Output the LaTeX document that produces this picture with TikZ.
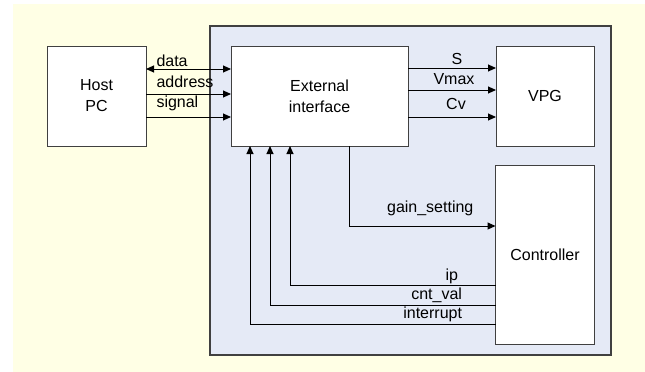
\documentclass[tikz,border=0pt]{standalone}
\usepackage{fontspec}
\setmainfont{Liberation Sans}
\usetikzlibrary{positioning, arrows.meta}
\definecolor{bgyellow}{RGB}{255,255,229}
\definecolor{panelblue}{RGB}{229,234,246}
\definecolor{edgegray}{RGB}{64,64,64}

\begin{document}
\begin{tikzpicture}[x=1pt, y=-1pt,
    >={Triangle[length=8pt, width=7pt]},
    block/.style={draw=edgegray, fill=white, line width=1pt, outer sep=0pt, inner sep=0pt, align=center, font=\fontsize{16}{21}\selectfont},
    lbl/.style={inner sep=0pt, font=\fontsize{16}{21}\selectfont},
    sig/.style={line width=1pt}
    ]
    \useasboundingbox (0,0) rectangle (645,372);
    \fill[bgyellow] (13,4) rectangle (645,372);
    \draw[fill=panelblue, draw=edgegray, line width=1.3pt] (210,26) rectangle (611,355);

    \node[block, minimum width=99pt, minimum height=100pt] (host) at (96.5,96) {Host\\PC};
    \node[block, minimum width=177pt, minimum height=100pt, right=85pt of host] (ext) {External\\interface};
    \node[block, minimum width=98pt, minimum height=100pt, right=88pt of ext] (vpg) {VPG};
    \node[block, minimum width=99pt, minimum height=179pt, below=19pt of vpg] (ctrl) {Controller};

    \path[sig, <->]
    ([yshift=27pt]host.east) edge node[lbl, pos=0, anchor=base west, xshift=10pt, yshift=2.5pt] {data} ([yshift=27pt]ext.west)
    ;

    \path[sig, ->]
    ([yshift=2pt]host.east) edge node[lbl, pos=0, anchor=base west, xshift=10pt, yshift=6.5pt] {address} ([yshift=2pt]ext.west)
    ([yshift=-21pt]host.east) edge node[lbl, pos=0, anchor=base west, xshift=10pt, yshift=10pt] {signal} ([yshift=-21pt]ext.west)
    ([yshift=28pt]ext.east) edge node[lbl, midway, anchor=base, xshift=5pt, yshift=4pt] {S} ([yshift=28pt]vpg.west)
    ([yshift=6pt]ext.east) edge node[lbl, midway, anchor=base, xshift=2pt, yshift=6pt] {Vmax} ([yshift=6pt]vpg.west)
    ([yshift=-21pt]ext.east) edge node[lbl, midway, anchor=base, xshift=4pt, yshift=8pt] {Cv} ([yshift=-21pt]vpg.west)
    ;

    \draw[sig, ->] ([xshift=29.5pt]ext.south) |- node[lbl, pos=0.75, anchor=base, xshift=8pt, yshift=14pt] {gain\_setting} ([yshift=28.5pt]ctrl.west);
    \draw[sig, ->] ([yshift=-30.5pt]ctrl.west) -| node[lbl, pos=0, anchor=base east, xshift=-37pt, yshift=5pt] {ip} ([xshift=-29.5pt]ext.south);
    \draw[sig, ->] ([yshift=-50.5pt]ctrl.west) -| node[lbl, pos=0, anchor=base east, xshift=-33pt, yshift=6pt] {cnt\_val} ([xshift=-49.5pt]ext.south);
    \draw[sig, ->] ([yshift=-69.5pt]ctrl.west) -| node[lbl, pos=0, anchor=base east, xshift=-33pt, yshift=6pt] {interrupt} ([xshift=-69.5pt]ext.south);
\end{tikzpicture}
\end{document}
